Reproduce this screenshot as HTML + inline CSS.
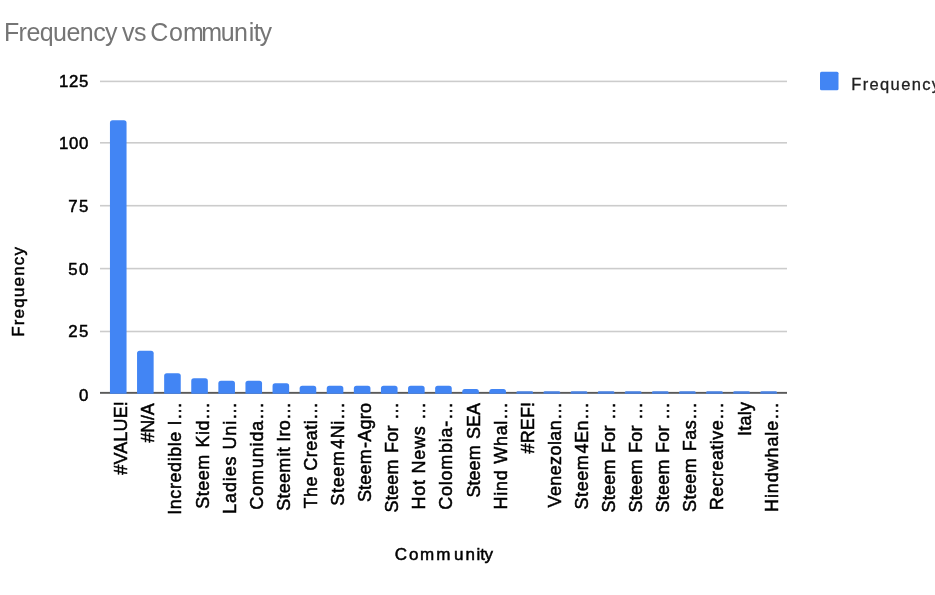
<!DOCTYPE html>
<html><head><meta charset="utf-8"><title>Frequency vs Community</title>
<style>
html,body{margin:0;padding:0;background:#fff;}
body{width:935px;height:595px;overflow:hidden;}
svg{display:block;font-family:"Liberation Sans",Arial,sans-serif;}
.k{fill:#000;stroke:#000;stroke-width:0.5;}
</style></head><body>
<svg width="935" height="595" viewBox="0 0 935 595">
<rect width="935" height="595" fill="#ffffff"/>
<g font-size="25" fill="#757575"><text x="3.9" y="40.8" letter-spacing="-0.55">Frequency</text><text x="122.0" y="40.8" letter-spacing="-0.6">vs</text><text x="150.9" y="40.8" dx="-0.7 1.4 0.7 -2.1 -0.7 0 1.4 0 -0.5" letter-spacing="-0.6">Community</text></g>
<rect x="100.0" y="330.70" width="687.0" height="1.6" fill="#cccccc"/>
<rect x="100.0" y="267.80" width="687.0" height="1.6" fill="#cccccc"/>
<rect x="100.0" y="204.90" width="687.0" height="1.6" fill="#cccccc"/>
<rect x="100.0" y="142.00" width="687.0" height="1.6" fill="#cccccc"/>
<rect x="100.0" y="80.60" width="687.0" height="1.6" fill="#cccccc"/>
<text class="k" x="89.00" y="401.10" font-size="16.8" text-anchor="end" letter-spacing="0.7">0</text>
<text class="k" x="89.80" y="336.50" font-size="16.8" text-anchor="end" letter-spacing="1.5">25</text>
<text class="k" x="89.80" y="274.60" font-size="16.8" text-anchor="end" letter-spacing="1.5">50</text>
<text class="k" x="89.80" y="211.70" font-size="16.8" text-anchor="end" letter-spacing="1.5">75</text>
<text class="k" x="89.00" y="148.80" font-size="16.8" text-anchor="end" letter-spacing="0.7">100</text>
<text class="k" x="89.00" y="87.40" font-size="16.8" text-anchor="end" letter-spacing="0.7">125</text>
<rect x="100.0" y="391.90" width="687.0" height="1.9" fill="#5a5a5a"/>
<path d="M109.95 393.70V122.96Q109.95 120.36 112.55 120.36H123.95Q126.55 120.36 126.55 122.96V393.70Z" fill="#4285f4"/>
<path d="M137.05 393.70V353.33Q137.05 350.73 139.65 350.73H151.05Q153.65 350.73 153.65 353.33V393.70Z" fill="#4285f4"/>
<path d="M164.15 393.70V375.87Q164.15 373.27 166.75 373.27H178.15Q180.75 373.27 180.75 375.87V393.70Z" fill="#4285f4"/>
<path d="M191.25 393.70V380.88Q191.25 378.28 193.85 378.28H205.25Q207.85 378.28 207.85 380.88V393.70Z" fill="#4285f4"/>
<path d="M218.35 393.70V383.38Q218.35 380.78 220.95 380.78H232.35Q234.95 380.78 234.95 383.38V393.70Z" fill="#4285f4"/>
<path d="M245.45 393.70V383.38Q245.45 380.78 248.05 380.78H259.45Q262.05 380.78 262.05 383.38V393.70Z" fill="#4285f4"/>
<path d="M272.55 393.70V385.88Q272.55 383.28 275.15 383.28H286.55Q289.15 383.28 289.15 385.88V393.70Z" fill="#4285f4"/>
<path d="M299.65 393.70V388.39Q299.65 385.79 302.25 385.79H313.65Q316.25 385.79 316.25 388.39V393.70Z" fill="#4285f4"/>
<path d="M326.75 393.70V388.39Q326.75 385.79 329.35 385.79H340.75Q343.35 385.79 343.35 388.39V393.70Z" fill="#4285f4"/>
<path d="M353.85 393.70V388.39Q353.85 385.79 356.45 385.79H367.85Q370.45 385.79 370.45 388.39V393.70Z" fill="#4285f4"/>
<path d="M380.95 393.70V388.39Q380.95 385.79 383.55 385.79H394.95Q397.55 385.79 397.55 388.39V393.70Z" fill="#4285f4"/>
<path d="M408.05 393.70V388.39Q408.05 385.79 410.65 385.79H422.05Q424.65 385.79 424.65 388.39V393.70Z" fill="#4285f4"/>
<path d="M435.15 393.70V388.39Q435.15 385.79 437.75 385.79H449.15Q451.75 385.79 451.75 388.39V393.70Z" fill="#4285f4"/>
<path d="M462.25 393.70V391.40Q462.25 388.89 464.75 388.89H476.35Q478.85 388.89 478.85 391.40V393.70Z" fill="#4285f4"/>
<path d="M489.35 393.70V391.40Q489.35 388.89 491.85 388.89H503.45Q505.95 388.89 505.95 391.40V393.70Z" fill="#4285f4"/>
<path d="M516.45 393.70V392.45Q516.45 391.20 517.70 391.20H531.80Q533.05 391.20 533.05 392.45V393.70Z" fill="#4780e2"/>
<path d="M543.55 393.70V392.45Q543.55 391.20 544.80 391.20H558.90Q560.15 391.20 560.15 392.45V393.70Z" fill="#4780e2"/>
<path d="M570.65 393.70V392.45Q570.65 391.20 571.90 391.20H586.00Q587.25 391.20 587.25 392.45V393.70Z" fill="#4780e2"/>
<path d="M597.75 393.70V392.45Q597.75 391.20 599.00 391.20H613.10Q614.35 391.20 614.35 392.45V393.70Z" fill="#4780e2"/>
<path d="M624.85 393.70V392.45Q624.85 391.20 626.10 391.20H640.20Q641.45 391.20 641.45 392.45V393.70Z" fill="#4780e2"/>
<path d="M651.95 393.70V392.45Q651.95 391.20 653.20 391.20H667.30Q668.55 391.20 668.55 392.45V393.70Z" fill="#4780e2"/>
<path d="M679.05 393.70V392.45Q679.05 391.20 680.30 391.20H694.40Q695.65 391.20 695.65 392.45V393.70Z" fill="#4780e2"/>
<path d="M706.15 393.70V392.45Q706.15 391.20 707.40 391.20H721.50Q722.75 391.20 722.75 392.45V393.70Z" fill="#4780e2"/>
<path d="M733.25 393.70V392.45Q733.25 391.20 734.50 391.20H748.60Q749.85 391.20 749.85 392.45V393.70Z" fill="#4780e2"/>
<path d="M760.35 393.70V392.45Q760.35 391.20 761.60 391.20H775.70Q776.95 391.20 776.95 392.45V393.70Z" fill="#4780e2"/>
<text class="k" transform="translate(127.25 401.06) rotate(-90)" font-size="18" text-anchor="end" letter-spacing="0.140">#VALUE!</text>
<text class="k" transform="translate(154.35 403.60) rotate(-90)" font-size="18" text-anchor="end" letter-spacing="-0.300">#N/A</text>
<text class="k" transform="translate(181.45 401.33) rotate(-90)" font-size="18" text-anchor="end" letter-spacing="0.571">Incredible I…</text>
<text class="k" transform="translate(208.55 401.38) rotate(-90)" font-size="18" text-anchor="end" dx="0 0 0 0 0 1.1 0 0 0 0" letter-spacing="0.517">Steem Kid…</text>
<text class="k" transform="translate(235.65 401.00) rotate(-90)" font-size="18" text-anchor="end" letter-spacing="0.895">Ladies Uni…</text>
<text class="k" transform="translate(262.75 401.07) rotate(-90)" font-size="18" text-anchor="end" dx="0 0 0 1.1 0 0 0 0 0" letter-spacing="0.831">Comunida…</text>
<text class="k" transform="translate(289.85 401.65) rotate(-90)" font-size="18" text-anchor="end" dx="0 0 0 0 0 1.1 0 0 0 0 0 0" letter-spacing="0.250">Steemit Iro…</text>
<text class="k" transform="translate(316.95 401.44) rotate(-90)" font-size="18" text-anchor="end" letter-spacing="0.455">The Creati…</text>
<text class="k" transform="translate(344.05 401.19) rotate(-90)" font-size="18" text-anchor="end" dx="0 0 0 0 0 1.1 0 0 0" letter-spacing="0.712">Steem4Ni…</text>
<text class="k" transform="translate(371.15 402.90) rotate(-90)" font-size="18" text-anchor="end" dx="0 0 0 0 0 1.1 0 0 0 0" letter-spacing="0.200">Steem-Agro</text>
<text class="k" transform="translate(398.25 401.66) rotate(-90)" font-size="18" text-anchor="end" dx="0 0 0 0 0 1.1 0 0 0 0 0" letter-spacing="0.240">Steem For …</text>
<text class="k" transform="translate(425.35 401.18) rotate(-90)" font-size="18" text-anchor="end" letter-spacing="0.722">Hot News …</text>
<text class="k" transform="translate(452.45 401.16) rotate(-90)" font-size="18" text-anchor="end" dx="0 0 0 0 0 1.1 0 0 0 0" letter-spacing="0.745">Colombia-…</text>
<text class="k" transform="translate(479.55 402.84) rotate(-90)" font-size="18" text-anchor="end" dx="0 0 0 0 0 1.1 0 0 0" letter-spacing="0.064">Steem SEA</text>
<text class="k" transform="translate(506.65 401.18) rotate(-90)" font-size="18" text-anchor="end" letter-spacing="0.722">Hind Whal…</text>
<text class="k" transform="translate(533.75 401.75) rotate(-90)" font-size="18" text-anchor="end" letter-spacing="0.150">#REF!</text>
<text class="k" transform="translate(560.85 401.51) rotate(-90)" font-size="18" text-anchor="end" letter-spacing="0.389">Venezolan…</text>
<text class="k" transform="translate(587.95 401.35) rotate(-90)" font-size="18" text-anchor="end" dx="0 0 0 0 0 1.1 0 0 0" letter-spacing="0.550">Steem4En…</text>
<text class="k" transform="translate(615.05 401.66) rotate(-90)" font-size="18" text-anchor="end" dx="0 0 0 0 0 1.1 0 0 0 0 0" letter-spacing="0.240">Steem For …</text>
<text class="k" transform="translate(642.15 401.66) rotate(-90)" font-size="18" text-anchor="end" dx="0 0 0 0 0 1.1 0 0 0 0 0" letter-spacing="0.240">Steem For …</text>
<text class="k" transform="translate(669.25 401.66) rotate(-90)" font-size="18" text-anchor="end" dx="0 0 0 0 0 1.1 0 0 0 0 0" letter-spacing="0.240">Steem For …</text>
<text class="k" transform="translate(696.35 401.47) rotate(-90)" font-size="18" text-anchor="end" dx="0 0 0 0 0 1.1 0 0 0 0" letter-spacing="0.428">Steem Fas…</text>
<text class="k" transform="translate(723.45 401.46) rotate(-90)" font-size="18" text-anchor="end" letter-spacing="0.435">Recreative…</text>
<text class="k" transform="translate(750.55 401.60) rotate(-90)" font-size="18" text-anchor="end" letter-spacing="0.300">Italy</text>
<text class="k" transform="translate(777.65 401.01) rotate(-90)" font-size="18" text-anchor="end" letter-spacing="0.889">Hindwhale…</text>
<text class="k" transform="translate(23.6 291.3) rotate(-90)" font-size="17" text-anchor="middle" letter-spacing="1.2">Frequency</text>
<text class="k" x="394.8 408.9 419.9 436.2 454.0 465.4 476.5 480.2 484.6" y="560.2" font-size="17">Community</text>
<rect x="820" y="71.8" width="18.5" height="18.5" rx="1.5" fill="#4285f4"/>
<text x="851.3" y="90.1" font-size="16.5" fill="#222" stroke="#222" stroke-width="0.3" letter-spacing="1.35">Frequency</text>
</svg>
</body></html>
